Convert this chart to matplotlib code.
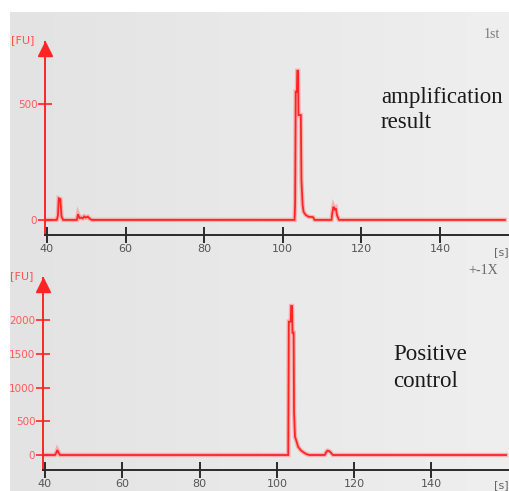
import numpy as np
import matplotlib
matplotlib.use("Agg")
import matplotlib.pyplot as plt
from matplotlib.colors import LinearSegmentedColormap
from matplotlib.transforms import offset_copy

# ---- data ----
top_t = [40, 42.5, 42.8, 43.0, 43.4, 43.7, 44.1, 47.6, 47.9, 48.3, 48.7, 49.1, 49.5, 49.9,
         50.4, 50.9, 51.4, 103.0, 103.15, 103.3, 103.6, 103.7, 103.9, 104.0, 104.6, 104.75,
         105.05, 105.3, 105.8, 106.5, 107.7, 108.1, 112.4, 112.6, 112.9, 113.2, 113.5, 113.8,
         114.3, 156.5]
top_fu = [0, 0, 20, 93, 90, 15, 0, 0, 25, 8, 10, 7, 15, 10,
          14, 5, 0, 0, 73, 553, 553, 643, 643, 452, 452, 172,
          65, 35, 22, 14, 12, 0, 0, 30, 57, 45, 50, 20,
          0, 0]

bot_t = [40, 42.6, 43.0, 43.2, 43.5, 43.9, 102.95, 103.1, 103.6, 103.7, 103.95, 104.05,
         104.35, 104.45, 104.7, 105.0, 105.5, 106.2, 106.9, 107.6, 108.4, 112.4, 112.8,
         113.1, 113.5, 113.9, 114.5, 159.3]
bot_fu = [0, 0, 40, 74, 40, 0, 0, 1975, 1975, 2207, 2207, 1812,
          1812, 642, 271, 220, 123, 70, 40, 15, 0, 0, 45,
          64, 60, 40, 0, 0]

x_ticks = [40, 60, 80, 100, 120, 140]
top_yticks = [0, 500]
bot_yticks = [0, 500, 1000, 1500, 2000]
top_label = ["amplification", "result"]
bot_label = ["Positive", "control"]

W, H = 510, 491
fig = plt.figure(figsize=(W / 100, H / 100), dpi=100)
fig.patch.set_facecolor("white")

# background panel with slight gradient
bg = fig.add_axes([10 / W, 0, 500 / W, (H - 12) / H])
cmap = LinearSegmentedColormap.from_list("g", ["#e3e3e3", "#efefef"])
bg.imshow(np.linspace(0, 1, 200)[None, :], cmap=cmap, aspect="auto",
          extent=[0, 1, 0, 1])
bg.axis("off")
bg.set_zorder(0)

RED = "#ff2424"


def make_ax(left_px, top_px, bottom_px, xlim, ylim, t, fu, yticks):
    ax = fig.add_axes([left_px / W, (H - bottom_px) / H, (W - left_px) / W,
                       (bottom_px - top_px) / H])
    ax.set_zorder(1)
    ax.patch.set_visible(False)
    ax.plot(t, fu, color="#ff7070", lw=3.2, alpha=0.45, solid_joinstyle="miter")
    ax.plot(t, fu, color=RED, lw=1.3, solid_joinstyle="miter")
    ax.set_xlim(*xlim)
    ax.set_ylim(*ylim)
    for s in ["top", "right"]:
        ax.spines[s].set_visible(False)
    ax.spines["bottom"].set_color("#2a2a2a")
    ax.spines["bottom"].set_linewidth(1.4)
    ax.spines["left"].set_color(RED)
    ax.spines["left"].set_linewidth(1.4)
    ax.set_xticks(x_ticks)
    ax.set_yticks(yticks)
    ax.tick_params(axis="x", direction="inout", length=11, width=1.4,
                   color="#2a2a2a", labelcolor="#555555", labelsize=8, pad=1)
    ax.tick_params(axis="y", direction="inout", length=10, width=1.2,
                   color=RED, labelcolor="#ff5a5a", labelsize=7.5, pad=0.5)
    tr = offset_copy(ax.transAxes, fig=fig, y=-5, units="points")
    ax.plot([0], [1], marker="^", markersize=10, color=RED, transform=tr,
            clip_on=False)
    return ax


ax1 = make_ax(45, 42, 235, (39.5, 39.5 + 465 / 3.93), (-65, 767),
              top_t, top_fu, top_yticks)
ax2 = make_ax(43, 278, 470, (39.5, 39.5 + 467 / 3.865), (-222, 2622),
              bot_t, bot_fu, bot_yticks)


def ftext(x, y, s, **kw):
    fig.text(x / W, 1 - y / H, s, **kw)


ftext(23, 40, "[FU]", ha="center", va="center", color="#ff5050", fontsize=8)
ftext(22, 276, "[FU]", ha="center", va="center", color="#ff5050", fontsize=8)
ftext(509, 252, "[s]", ha="right", va="center", color="#666666", fontsize=8)
ftext(509, 485, "[s]", ha="right", va="center", color="#666666", fontsize=8)
ftext(492, 34, "1st", ha="center", va="center", color="#7a7a7a", fontsize=10,
      family="Liberation Serif")
ftext(483, 271, "+-1X", ha="center", va="center", color="#6a6a6a", fontsize=10,
      family="Liberation Serif")

serif = dict(family="Liberation Serif", fontsize=16.5, color="#1a1a1a",
             ha="left", va="baseline")
ftext(381, 103, top_label[0], **serif)
ftext(381, 128, top_label[1], **serif)
ftext(393, 360, bot_label[0], **serif)
ftext(393, 387, bot_label[1], **serif)

fig.savefig("out.png", dpi=100)
